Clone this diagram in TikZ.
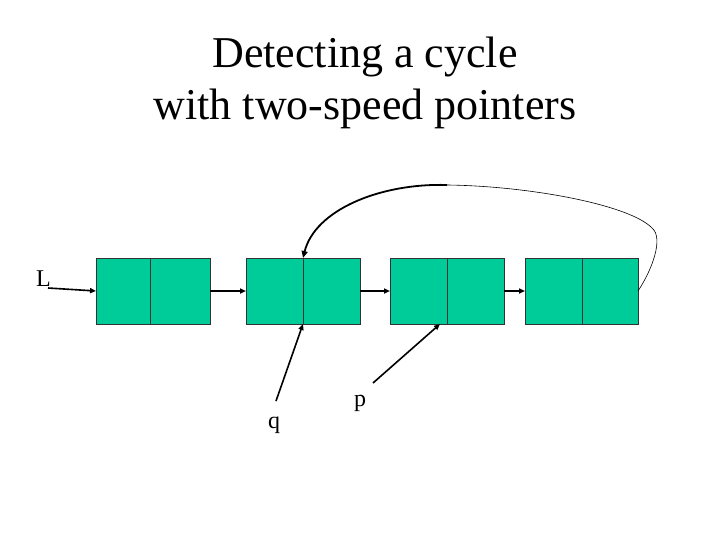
\documentclass[tikz,border=0pt]{standalone}
\usepackage{fontspec}
\setmainfont{Liberation Serif}
\usetikzlibrary{arrows.meta}
\definecolor{cellgreen}{HTML}{00CC99}
\begin{document}
\begin{tikzpicture}[x=1pt,y=-1pt,
  cell/.style={draw=black!80,fill=cellgreen,line width=0.8pt},
  link/.style={draw=black,line width=1.6pt,-{Triangle[length=6pt,width=5pt]}},
  lbl/.style={font=\fontsize{24}{28}\selectfont,inner sep=0pt},
  ttl/.style={font=\fontsize{44}{52}\selectfont,inner sep=0pt,anchor=base}]
\useasboundingbox (0,0) rectangle (720,540);
\node[ttl] (title1) at (365,68) {Detecting a cycle};
\node[ttl] (title2) at (365,120) {with two-speed pointers};
% boxes
\foreach \n/\a/\m/\b in {1/96/150/210,2/246/303/360,3/390/447/504,4/525/582/638}{
  \draw[cell] (\a,258) rectangle (\b,324);
  \draw[black!80,line width=0.8pt] (\m,258) -- (\m,324);
  \coordinate (l\n) at (\a,291);
  \coordinate (r\n) at (\b,291);
  \coordinate (m\n) at (\m,324);
  \coordinate (t\n) at (\m,258);
}
\node[lbl,anchor=base west] (L) at (36,286) {L};
\coordinate (Ls) at (48,288);
\draw[link] (Ls) -- (l1);
\draw[link] (r1) -- (l2);
\draw[link] (r2) -- (l3);
\draw[link] (r3) -- (l4);
% back link
\coordinate (top) at (447,185);
\draw[line width=0.6pt] (r4) .. controls (652,270) and (664,238) .. (652,228)
  .. controls (630,205) and (530,186) .. (top);
\draw[line width=1.8pt,-{Triangle[length=7pt,width=6pt]}] (top) .. controls (380,183) and (315,210) .. (t2);
% pointers
\node[lbl,anchor=base] (q) at (274,428) {q};
\node[lbl,anchor=base] (p) at (360,406) {p};
\coordinate (qs) at (276,401);
\coordinate (ps) at (373,383);
\coordinate (pe) at (440,324);
\draw[link] (qs) -- (m2);
\draw[link] (ps) -- (pe);
\end{tikzpicture}
\end{document}
